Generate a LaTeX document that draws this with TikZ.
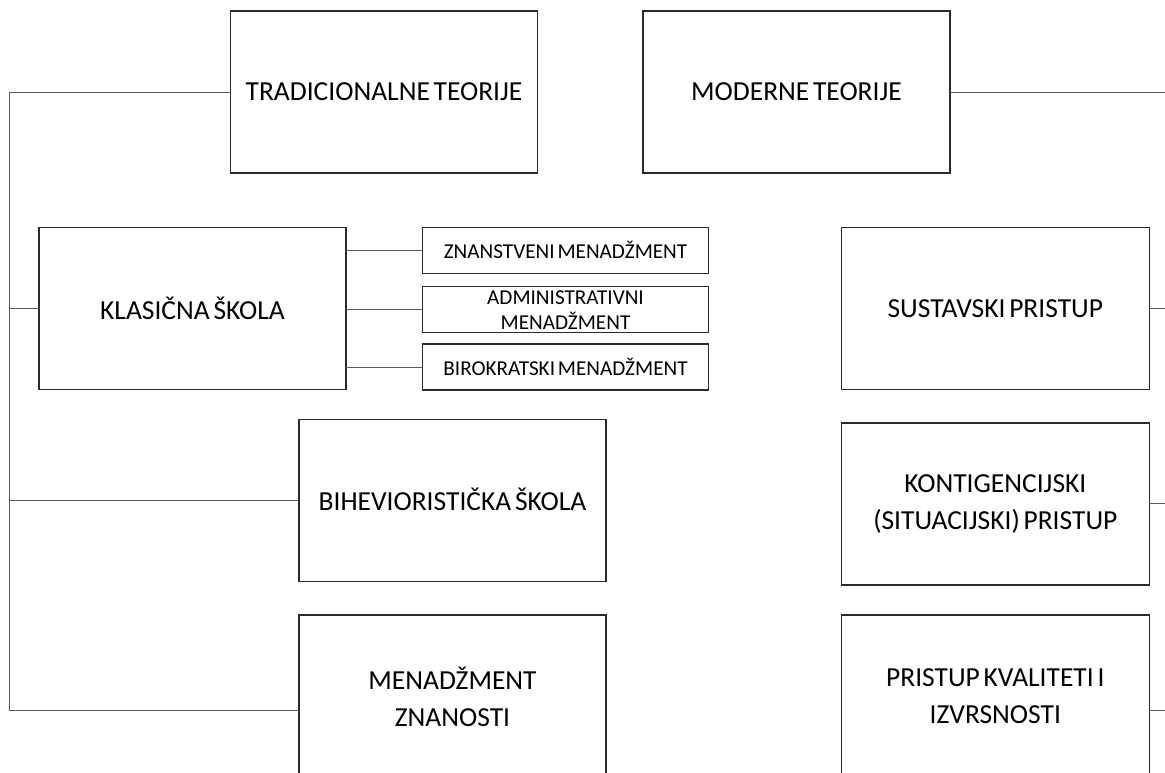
\documentclass[tikz,border=0pt]{standalone}
\usepackage{fontspec}
\setmainfont[WordSpace=0.6]{Carlito}
\definecolor{boxline}{HTML}{2A2A2A}
\definecolor{conline}{HTML}{5A5A5A}
\begin{document}
\begin{tikzpicture}[x=1pt,y=-1pt,
  bigbox/.style={draw=boxline,line width=1.3pt,minimum width=307pt,minimum height=162pt,inner sep=0pt,outer sep=0pt,align=center,font=\fontsize{27.5}{36.7}\selectfont},
  smallbox/.style={draw=boxline,line width=1.3pt,minimum width=285.6pt,minimum height=46pt,inner sep=0pt,outer sep=0pt,align=center,font=\fontsize{21.2}{25}\selectfont},
  conn/.style={draw=conline,line width=0.9pt}]
\useasboundingbox (0,0) rectangle (1165,773);
\clip (0,0) rectangle (1165,773);
\fill[white] (0,0) rectangle (1165,773);
% top level
\node[bigbox] (trad) at (384,92) {TRADICIONALNE TEORIJE};
\node[bigbox] (mod) at (796.5,92) {MODERNE TEORIJE};
% traditional branch
\node[bigbox] (kla) at (192.5,308.7) {\raisebox{1.5pt}{KLASIČNA ŠKOLA}};
\node[smallbox] (zn) at (565.5,250.3) {ZNANSTVENI MENADŽMENT};
\node[smallbox] (adm) at (565.5,309.7) {ADMINISTRATIVNI\\MENADŽMENT};
\node[smallbox] (bir) at (565.5,367) {BIROKRATSKI MENADŽMENT};
\node[bigbox] (bih) at (452.5,500.3) {\raisebox{1.5pt}{BIHEVIORISTIČKA ŠKOLA}};
\node[bigbox,minimum height=163pt] (men) at (452.5,696.5) {MENADŽMENT\\ZNANOSTI};
% modern branch
\node[bigbox,minimum width=308pt] (sus) at (995.3,308.7) {SUSTAVSKI PRISTUP};
\node[bigbox,minimum width=308pt] (kon) at (995.3,503.9) {KONTIGENCIJSKI\\(SITUACIJSKI) PRISTUP};
\node[bigbox,minimum width=308pt,minimum height=163pt] (pri) at (995.3,696.5) {PRISTUP KVALITETI I\\IZVRSNOSTI};
% helper coordinates
\coordinate (sp) at (9.5,0);
\coordinate (jm) at (9.5,710);
\coordinate (re) at (1166,0);
\coordinate (jr) at (1166,710);
% left spine connectors
\draw[conn] (trad.west) -- (trad.west -| sp) -- (jm) -- (jm -| men.west);
\draw[conn] (kla.west) -- (kla.west -| sp);
\draw[conn] (bih.west) -- (bih.west -| sp);
% klasicna to sub-boxes
\draw[conn] (zn.west) -- (zn.west -| kla.east);
\draw[conn] (adm.west) -- (adm.west -| kla.east);
\draw[conn] (bir.west) -- (bir.west -| kla.east);
% right side connectors
\draw[conn] (mod.east) -- (mod.east -| re);
\draw[conn] (sus.east) -- (sus.east -| re);
\draw[conn] (kon.east) -- (kon.east -| re);
\draw[conn] (jr -| pri.east) -- (jr);
\end{tikzpicture}
\end{document}
